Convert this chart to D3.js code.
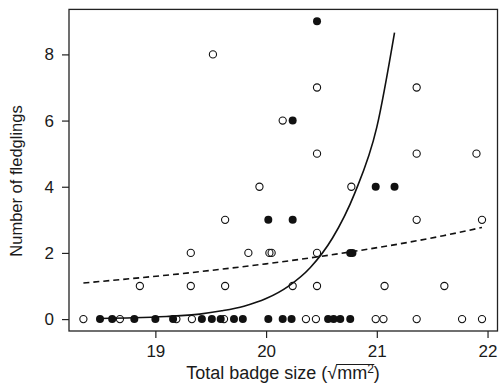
<!DOCTYPE html>
<meta charset="utf-8">
<style>
  body { margin: 0; background: #fff; }
  svg text { font-family: "Liberation Sans", Arial, sans-serif; fill: #1a1a1a; }
</style>
<body>
<svg id="chart" width="499" height="387"></svg>
</body>
<script src="https://cdnjs.cloudflare.com/ajax/libs/d3/7.8.5/d3.min.js"></script>
<script>
  // open circles
  const openX = [18.35, 18.68, 19.19, 19.33, 19.62, 20.36, 20.45, 20.99, 21.06, 21.36, 21.77, 21.95,
                 18.86, 19.32, 19.63, 20.24, 20.46, 21.07, 21.61,
                 19.32, 19.84, 20.03, 20.05, 20.46,
                 19.63, 21.36, 21.95,
                 19.94, 20.77,
                 20.46, 21.36, 21.90,
                 20.15,
                 20.46, 21.36,
                 19.52]
  const openY = [0, 0, 0, 0, 0, 0, 0, 0, 0, 0, 0, 0,
                 1, 1, 1, 1, 1, 1, 1,
                 2, 2, 2, 2, 2,
                 3, 3, 3,
                 4, 4,
                 5, 5, 5,
                 6,
                 7, 7,
                 8]
  // filled circles
  const filledX = [18.50, 18.61, 18.81, 19.00, 19.16, 19.42, 19.51, 19.59, 19.71, 19.79, 20.02, 20.15,
                   20.23, 20.56, 20.61, 20.67, 20.76,
                   20.76, 20.78,
                   20.02, 20.24,
                   20.99, 21.16,
                   20.24,
                   20.46]
  const filledY = [0, 0, 0, 0, 0, 0, 0, 0, 0, 0, 0, 0,
                   0, 0, 0, 0, 0,
                   2, 2,
                   3, 3,
                   4, 4,
                   6,
                   9]
  // fitted curves
  const solidX = [18.50, 18.80, 19.10, 19.40, 19.60, 19.80, 20.00, 20.20, 20.40, 20.60, 20.80, 21.00, 21.16]
  const solidY = [0.02, 0.04, 0.08, 0.15, 0.25, 0.39, 0.62, 0.99, 1.56, 2.45, 3.8, 5.8, 8.66]
  const dashX = [18.35, 18.80, 19.20, 19.60, 20.00, 20.40, 20.80, 21.20, 21.60, 21.95]
  const dashY = [1.09, 1.23, 1.36, 1.51, 1.67, 1.85, 2.05, 2.27, 2.52, 2.77]

  const xTicks = [19, 20, 21, 22]
  const yTicks = [0, 2, 4, 6, 8]

  const [ mLeft, mTop, mRight, mBottom ] = [ 69, 9.4, 497.5, 331 ]
  const fs = 17

  const x = d3.scaleLinear().domain([18.22, 22.09]).range([mLeft, mRight])
  const y = d3.scaleLinear().domain([-0.36, 9.36]).range([mBottom, mTop])

  const svg = d3.select('#chart')

  // frame
  svg.append('rect')
      .attr('x', mLeft).attr('y', mTop)
      .attr('width', mRight - mLeft).attr('height', mBottom - mTop)
      .attr('fill', 'none').attr('stroke', '#222').attr('stroke-width', 1.3)

  const xAxis = svg.append('g')
      .attr('transform', `translate(0,${mBottom})`)
      .call(d3.axisBottom(x).tickValues(xTicks).tickSize(7).tickPadding(7).tickFormat(d3.format('d')))
  const yAxis = svg.append('g')
      .attr('transform', `translate(${mLeft},0)`)
      .call(d3.axisLeft(y).tickValues(yTicks).tickSize(7).tickPadding(8).tickFormat(d3.format('d')))
  for (const ax of [xAxis, yAxis]) {
    ax.attr('font-family', null).attr('font-size', fs)
    ax.select('.domain').remove()
    ax.selectAll('line').attr('stroke', '#222').attr('stroke-width', 1.2)
    ax.selectAll('text').attr('fill', '#1a1a1a')
  }

  // points
  svg.append('g').selectAll('circle')
      .data(openX.map((v, i) => [v, openY[i]]))
    .enter().append('circle')
      .attr('cx', d => x(d[0])).attr('cy', d => y(d[1]))
      .attr('r', 3.6)
      .attr('fill', 'none').attr('stroke', '#111').attr('stroke-width', 1.1)

  svg.append('g').selectAll('circle')
      .data(filledX.map((v, i) => [v, filledY[i]]))
    .enter().append('circle')
      .attr('cx', d => x(d[0])).attr('cy', d => y(d[1]))
      .attr('r', 4)
      .attr('fill', '#111')

  // curves
  const line = d3.line().x(d => x(d[0])).y(d => y(d[1])).curve(d3.curveMonotoneX)
  svg.append('path')
      .attr('d', line(solidX.map((v, i) => [v, solidY[i]])))
      .attr('fill', 'none').attr('stroke', '#111').attr('stroke-width', 1.6)
  svg.append('path')
      .attr('d', line(dashX.map((v, i) => [v, dashY[i]])))
      .attr('fill', 'none').attr('stroke', '#111').attr('stroke-width', 1.6)
      .attr('stroke-dasharray', '6,4')

  // axis titles
  svg.append('text')
      .attr('transform', 'translate(22,181) rotate(-90)')
      .attr('text-anchor', 'middle')
      .attr('font-size', 16.5)
      .text('Number of fledglings')

  const xt = svg.append('text')
      .attr('x', 283).attr('y', 379)
      .attr('text-anchor', 'middle')
      .attr('font-size', 18)
  xt.append('tspan').text('Total badge size (√')
  xt.append('tspan').text('mm')
  xt.append('tspan').attr('font-size', 12).attr('dy', -6).text('2')
  xt.append('tspan').attr('dy', 6).text(')')

  // vinculum over mm²
  const t = xt.node()
  const s = t.getExtentOfChar(18)
  const e = t.getExtentOfChar(21)
  svg.append('line')
      .attr('x1', s.x + s.width - 1).attr('x2', e.x + e.width + 0.5)
      .attr('y1', s.y + 1.5).attr('y2', s.y + 1.5)
      .attr('stroke', '#1a1a1a').attr('stroke-width', 1)
</script>
